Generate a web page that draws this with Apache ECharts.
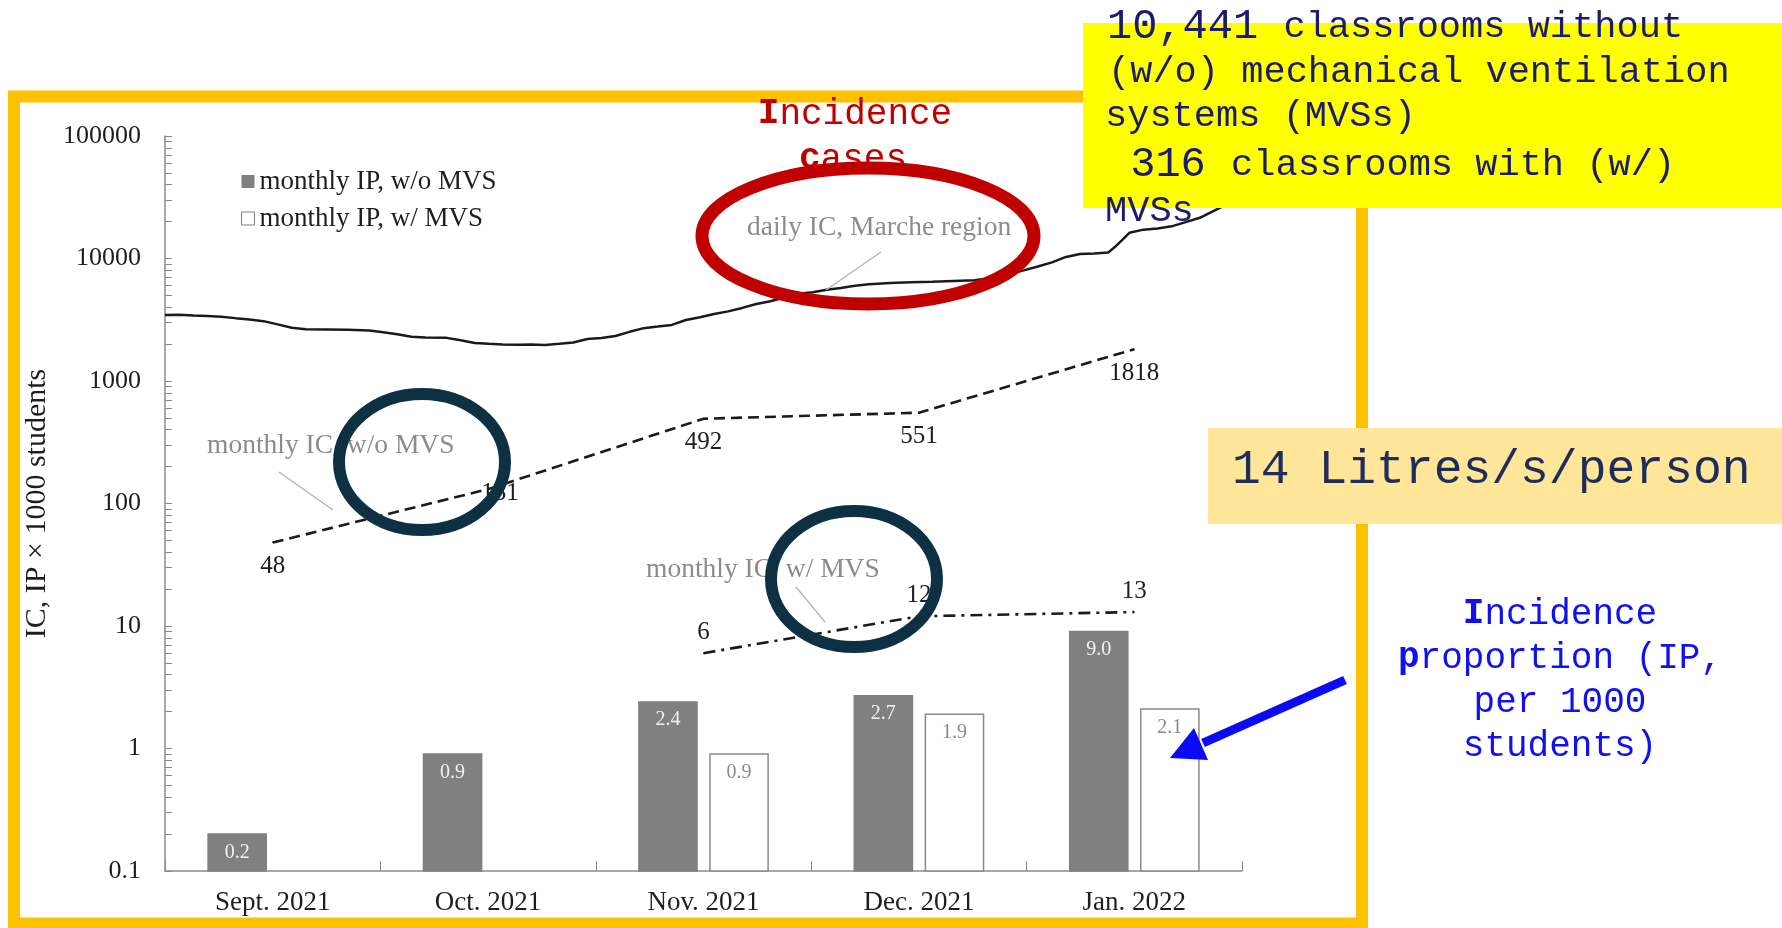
<!DOCTYPE html>
<html>
<head>
<meta charset="utf-8">
<title>Incidence cases and proportion, Marche schools</title>
<script src="https://cdn.jsdelivr.net/npm/echarts@6/dist/echarts.min.js"></script>
<style>
    html, body { margin: 0; padding: 0; background: #fff; }
    #chart { width: 1782px; height: 928px; }
</style>
</head>
<body>
<div id="chart"></div>
<script>
// ---- data ----
var months = ['Sept. 2021', 'Oct. 2021', 'Nov. 2021', 'Dec. 2021', 'Jan. 2022']
var ipWithoutMvs = [0.2, 0.9, 2.4, 2.7, 9.0]
var ipWithMvs = [null, null, 0.9, 1.9, 2.1]
var icWithoutMvs = [48, 131, 492, 551, 1818]
var icWithMvs = [null, null, 6, 12, 13]

// daily IC, Marche region -- day counted from 1 Sept 2021
var dailyDay = [0, 2, 4, 6, 8, 10, 12, 14, 16, 18, 20, 23, 26, 29, 31, 33, 35, 37, 40, 42,
    44, 46, 48, 50, 52, 54, 56, 58, 60, 62, 64, 66, 68, 70, 72, 74, 76, 78, 80, 82,
    84, 86, 88, 90, 92, 94, 96, 98, 100, 103, 106, 109, 112, 115, 118, 120, 122, 124, 126, 128,
    130, 132, 134, 135, 136, 137, 139, 141, 143, 145, 147, 149, 151, 153]
var dailyIC = [3450, 3480, 3420, 3400, 3350, 3260, 3180, 3080, 2900, 2720, 2640, 2630, 2620, 2580, 2500, 2410, 2300, 2260, 2250, 2150,
    2040, 2010, 1990, 1980, 1990, 1970, 2010, 2060, 2200, 2240, 2330, 2520, 2700, 2780, 2870, 3150, 3320, 3520, 3700, 3950,
    4250, 4480, 4800, 5150, 5300, 5550, 5750, 6000, 6150, 6300, 6400, 6450, 6550, 6650, 7000, 7500, 8000, 8600, 9300, 10300,
    10900, 11000, 11200, 12500, 14200, 16200, 17200, 17600, 18300, 19800, 21500, 24500, 28000, 31000]
var daysInPeriod = 153

var yTickLabels = [0.1, 1, 10, 100, 1000, 10000, 100000]

// ---- styles ----
var serif = 'Liberation Serif'
var mono = 'Liberation Mono'
var axisGray = '#8a8a8a'
var textDark = '#1e1e1e'

// minor ticks 1..9 of every decade
var yTicks = []
yTickLabels.forEach(function (d, i) {
    if (i === yTickLabels.length - 1) { yTicks.push(d); return }
    for (var k = 1; k < 10; k++) yTicks.push(+(d * k).toPrecision(3))
})

// bars sit on the axis bottom (0.1), not on 1 as echarts does for log axes
function barRenderer(side, fill, stroke, labelColor) {
    return function (params, api) {
        var idx = api.value(0)
        var val = api.value(1)
        var top = api.coord([idx, val])
        var base = api.coord([idx, yTickLabels[0]])
        var band = api.coord([1, val])[0] - api.coord([0, val])[0]
        var w = band * 0.27
        var gap = band * 0.06
        var cx = top[0] + side * (w + gap) / 2
        return {
            type: 'rect',
            shape: { x: cx - w / 2, y: top[1], width: w, height: base[1] - top[1] },
            style: { fill: fill, stroke: stroke, lineWidth: 1.5 },
            textContent: {
                style: { text: val.toFixed(1), fill: labelColor, fontSize: 20, fontFamily: serif }
            },
            textConfig: { position: 'insideTop', distance: 9 }
        }
    }
}

function pairs(arr) {
    return arr.map(function (v, i) { return [i, v] }).filter(function (d) { return d[1] != null })
}

function txt(x, y, text, size, family, color, extra) {
    var style = { x: x, y: y, text: text, fontSize: size, fontFamily: family, fill: color,
        align: 'left', verticalAlign: 'middle' }
    for (var k in (extra || {})) style[k] = extra[k]
    return { type: 'text', z: 70, style: style }
}

function boldRich(size, color) {
    return { b: { fontSize: size, fontFamily: mono, fill: color, fontWeight: 'bold' } }
}

var chart = echarts.init(document.getElementById('chart'))

var lineLabel = { show: true, fontSize: 25, fontFamily: serif, color: textDark }
var boxBlue = '#1c1c6c'
var bigDigits = { big: { fontSize: 42, fontFamily: mono, fill: boxBlue } }

var option = {
    animation: false,
    backgroundColor: '#fff',
    grid: { left: 165, top: 136, width: 1077, height: 735 },
    legend: {
        orient: 'vertical',
        left: 236, top: 163,
        itemWidth: 13, itemHeight: 13, itemGap: 10,
        selectedMode: false,
        textStyle: { fontSize: 27, fontFamily: serif, color: textDark },
        data: [
            { name: 'monthly IP, w/o MVS', icon: 'rect', itemStyle: { color: '#808080' } },
            { name: 'monthly IP, w/ MVS', icon: 'rect', itemStyle: { color: '#fff', borderColor: '#808080', borderWidth: 1 } }
        ]
    },
    xAxis: [{
        type: 'category',
        data: months,
        axisLine: { lineStyle: { color: axisGray, width: 1.5 } },
        axisTick: { show: true, inside: true, length: 10, lineStyle: { color: axisGray } },
        axisLabel: { fontSize: 27, fontFamily: serif, color: textDark, margin: 18 }
    }, {
        type: 'value', min: 0, max: daysInPeriod, show: false
    }],
    yAxis: {
        type: 'log',
        logBase: 10,
        min: yTickLabels[0],
        max: yTickLabels[yTickLabels.length - 1],
        name: 'IC, IP × 1000 students',
        nameLocation: 'middle',
        nameGap: 88,
        nameTextStyle: { fontSize: 30, fontFamily: serif, color: textDark },
        axisLine: { show: true, lineStyle: { color: axisGray, width: 1.5 } },
        axisTick: { show: true, inside: true, length: 7, customValues: yTicks, lineStyle: { color: axisGray } },
        axisLabel: {
            fontSize: 26, fontFamily: serif, color: textDark, margin: 24, customValues: yTickLabels,
            formatter: function (v) { return String(v) }
        },
        splitLine: { show: false }
    },
    series: [{
        name: 'monthly IP, w/o MVS',
        type: 'custom',
        renderItem: barRenderer(-1, '#808080', '#808080', '#f2f2f2'),
        encode: { x: 0, y: 1 },
        itemStyle: { color: '#808080' },
        data: pairs(ipWithoutMvs)
    }, {
        name: 'monthly IP, w/ MVS',
        type: 'custom',
        renderItem: barRenderer(1, '#fff', '#8a8a8a', '#8a8a8a'),
        encode: { x: 0, y: 1 },
        itemStyle: { color: '#fff' },
        data: pairs(ipWithMvs)
    }, {
        name: 'daily IC, Marche region',
        type: 'line',
        xAxisIndex: 1,
        showSymbol: false,
        lineStyle: { color: '#1a1a1a', width: 2.5 },
        data: dailyDay.map(function (d, i) { return [d, dailyIC[i]] })
    }, {
        name: 'monthly IC, w/o MVS',
        type: 'line',
        symbol: 'circle', symbolSize: 1,
        itemStyle: { color: '#1a1a1a' },
        lineStyle: { color: '#1a1a1a', width: 2.6, type: [11, 6] },
        label: Object.assign({ position: 'bottom', distance: 11 }, lineLabel),
        data: icWithoutMvs.map(function (v, i) {
            // "131" sits right of its point in the original
            return i === 1 ? { value: v, label: { offset: [12, -20] } } : v
        })
    }, {
        name: 'monthly IC, w/ MVS',
        type: 'line',
        symbol: 'circle', symbolSize: 1,
        itemStyle: { color: '#1a1a1a' },
        lineStyle: { color: '#1a1a1a', width: 2.6, type: [12, 6, 3, 6] },
        label: Object.assign({ position: 'top', distance: 8 }, lineLabel),
        data: icWithMvs
    }],
    graphic: [
        // orange frame
        { type: 'rect', z: 1, shape: { x: 14, y: 96.5, width: 1348, height: 827 },
          style: { fill: null, stroke: '#ffc000', lineWidth: 12 } },

        // grey callouts of the original figure
        txt(747, 228, 'daily IC, Marche region', 27.5, serif, '#8c8c8c'),
        { type: 'line', z: 40, shape: { x1: 881, y1: 252, x2: 826, y2: 290 }, style: { stroke: '#b0b0b0', lineWidth: 1.2 } },
        txt(207, 446, 'monthly IC, w/o MVS', 27.5, serif, '#8c8c8c'),
        { type: 'line', z: 40, shape: { x1: 279, y1: 472, x2: 333, y2: 510 }, style: { stroke: '#b0b0b0', lineWidth: 1.2 } },
        txt(646, 570, 'monthly IC, w/ MVS', 27.5, serif, '#8c8c8c'),
        { type: 'line', z: 40, shape: { x1: 796, y1: 587, x2: 825, y2: 622 }, style: { stroke: '#b0b0b0', lineWidth: 1.2 } },

        // red "Incidence cases" note and ellipse
        txt(855, 114, '{b|I}ncidence', 36, mono, '#c00000', { align: 'center', rich: boldRich(36, '#c00000') }),
        txt(853, 159, '{b|c}ases', 36, mono, '#c00000', { align: 'center', rich: boldRich(36, '#c00000') }),
        { type: 'ellipse', z: 80, shape: { cx: 868, cy: 236, rx: 166, ry: 68 },
          style: { fill: null, stroke: '#c00000', lineWidth: 13 } },

        // navy circles
        { type: 'ellipse', z: 80, shape: { cx: 422, cy: 462, rx: 83, ry: 68 },
          style: { fill: null, stroke: '#0d3143', lineWidth: 12 } },
        { type: 'ellipse', z: 80, shape: { cx: 854, cy: 579, rx: 83, ry: 68 },
          style: { fill: null, stroke: '#0d3143', lineWidth: 12 } },

        // yellow classroom box
        { type: 'rect', z: 60, shape: { x: 1083, y: 23, width: 699, height: 185 }, style: { fill: '#ffff00' } },
        txt(1107, 27, '{big|10,441 }classrooms without', 37, mono, boxBlue, { rich: bigDigits }),
        txt(1108, 72, '(w/o) mechanical ventilation', 37, mono, boxBlue),
        txt(1105, 116, 'systems (MVSs)', 37, mono, boxBlue),
        txt(1105, 165, '{big| 316 }classrooms with (w/)', 37, mono, boxBlue, { rich: bigDigits }),
        txt(1105, 211, 'MVSs', 37, mono, boxBlue),

        // ventilation rate box
        { type: 'rect', z: 60, shape: { x: 1208, y: 428, width: 574, height: 96 }, style: { fill: '#ffe699' } },
        txt(1232, 470, '14 Litres/s/person', 48, mono, '#1f2d5a'),

        // blue IP note and arrow
        txt(1560, 614, '{b|I}ncidence', 36, mono, '#1010f0', { align: 'center', rich: boldRich(36, '#1010f0') }),
        txt(1560, 658, '{b|p}roportion (IP,', 36, mono, '#1010f0', { align: 'center', rich: boldRich(36, '#1010f0') }),
        txt(1560, 702, 'per 1000', 36, mono, '#1010f0', { align: 'center' }),
        txt(1560, 746, 'students)', 36, mono, '#1010f0', { align: 'center' }),
        { type: 'line', z: 80, shape: { x1: 1345, y1: 680, x2: 1203, y2: 743 },
          style: { stroke: '#0a0af5', lineWidth: 9 } },
        { type: 'polygon', z: 80, shape: { points: [[1170, 758], [1208, 760], [1194, 728]] },
          style: { fill: '#0a0af5' } }
    ]
}

chart.setOption(option)
window.addEventListener('resize', function () { chart.resize() })
</script>
</body>
</html>
